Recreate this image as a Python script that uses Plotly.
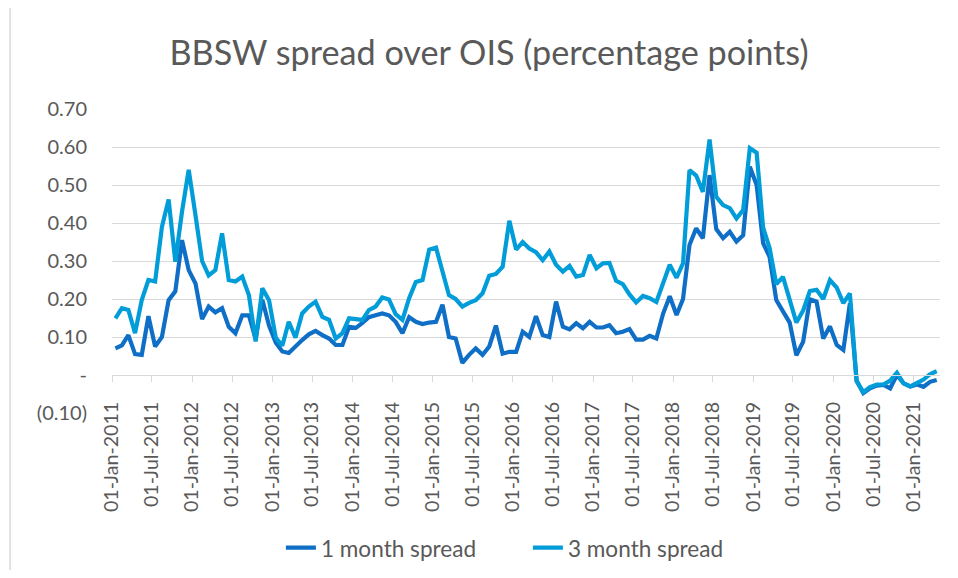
import pandas as pd
import plotly.graph_objects as go

months = pd.date_range("2011-01-01", periods=124, freq="MS")

one_month = [
    0.070, 0.078, 0.105, 0.055, 0.053, 0.155, 0.075, 0.100, 0.197, 0.220,
    0.355, 0.276, 0.241, 0.147, 0.180, 0.165, 0.176, 0.127, 0.110, 0.157,
    0.157, 0.095, 0.198, 0.130, 0.085, 0.062, 0.058, 0.077, 0.092, 0.107,
    0.116, 0.105, 0.096, 0.079, 0.079, 0.127, 0.124, 0.137, 0.152, 0.157,
    0.162, 0.157, 0.140, 0.110, 0.152, 0.140, 0.134, 0.138, 0.140, 0.185,
    0.100, 0.096, 0.032, 0.053, 0.070, 0.053, 0.075, 0.130, 0.056, 0.061,
    0.061, 0.114, 0.100, 0.155, 0.105, 0.100, 0.193, 0.127, 0.120, 0.136,
    0.123, 0.140, 0.125, 0.125, 0.131, 0.110, 0.114, 0.121, 0.093, 0.093,
    0.103, 0.096, 0.161, 0.207, 0.158, 0.200, 0.342, 0.386, 0.360, 0.526,
    0.384, 0.360, 0.377, 0.351, 0.368, 0.548, 0.500, 0.347, 0.311, 0.197,
    0.165, 0.138, 0.052, 0.088, 0.199, 0.193, 0.096, 0.128, 0.079, 0.066,
    0.189, -0.015, -0.048, -0.035, -0.028, -0.026, -0.035, 0.000, -0.022, -0.030,
    -0.025, -0.031, -0.018, -0.013,
]

three_month = [
    0.149, 0.176, 0.171, 0.110, 0.197, 0.250, 0.246, 0.390, 0.462, 0.298,
    0.430, 0.540, 0.420, 0.300, 0.262, 0.276, 0.373, 0.250, 0.246, 0.259,
    0.210, 0.088, 0.228, 0.197, 0.098, 0.077, 0.140, 0.098, 0.162, 0.180,
    0.193, 0.153, 0.145, 0.096, 0.110, 0.149, 0.147, 0.145, 0.171, 0.180,
    0.204, 0.199, 0.160, 0.145, 0.202, 0.245, 0.250, 0.330, 0.335, 0.270,
    0.210, 0.200, 0.180, 0.190, 0.197, 0.215, 0.261, 0.266, 0.285, 0.406,
    0.330, 0.350, 0.333, 0.323, 0.302, 0.325, 0.290, 0.272, 0.287, 0.259,
    0.263, 0.316, 0.281, 0.294, 0.295, 0.248, 0.239, 0.212, 0.191, 0.208,
    0.202, 0.192, 0.243, 0.290, 0.256, 0.294, 0.539, 0.525, 0.482, 0.620,
    0.469, 0.447, 0.439, 0.412, 0.434, 0.597, 0.585, 0.388, 0.334, 0.239,
    0.258, 0.202, 0.138, 0.170, 0.221, 0.224, 0.200, 0.250, 0.230, 0.189,
    0.215, -0.016, -0.045, -0.032, -0.025, -0.025, -0.015, 0.006, -0.022, -0.030,
    -0.022, -0.012, 0.002, 0.010,
]

y_tickvals = [-0.1, 0.0, 0.1, 0.2, 0.3, 0.4, 0.5, 0.6, 0.7]
y_ticktext = ["(0.10)", "-", "0.10", "0.20", "0.30", "0.40", "0.50", "0.60", "0.70"]

FONT = "Lato"
TXT = "#595959"
GRID = "#d9d9d9"

# page body has an 8px margin; figure sized so it fits the 958x578 window
W, H = 942, 562
OFF = 8
L, R = 112 - OFF, W - (940.5 - OFF)
T, B = 109 - OFF, H - (413 - OFF)
PW = W - L - R

fig = go.Figure()
fig.add_trace(go.Scatter(
    x=months, y=one_month, name="1 month spread", mode="lines",
    line=dict(color="#0F6FC6", width=4.2),
    xperiod="M1", xperiodalignment="middle",
))
fig.add_trace(go.Scatter(
    x=months, y=three_month, name="3 month spread", mode="lines",
    line=dict(color="#009DD9", width=4.2),
    xperiod="M1", xperiodalignment="middle",
))

fig.update_layout(
    width=W, height=H,
    margin=dict(l=L, r=R, t=T, b=B, autoexpand=False),
    paper_bgcolor="white", plot_bgcolor="white",
    font=dict(family=FONT, color=TXT),
    title=dict(
        text="BBSW spread over OIS (percentage points)",
        x=(489 - OFF) / W, xanchor="center", xref="container",
        y=1 - (53 - OFF) / H, yanchor="middle", yref="container",
        font=dict(family=FONT, size=34.2, color=TXT),
    ),
    showlegend=True,
    legend=dict(
        orientation="h", x=(281 - 112) / PW, xanchor="left",
        y=-(548 - 413) / (413 - 109), yanchor="middle",
        font=dict(family=FONT, size=22.6, color=TXT),
        bgcolor="rgba(0,0,0,0)",
        entrywidth=202, entrywidthmode="pixels",
    ),
    xaxis=dict(
        type="date",
        range=["2011-01-01", "2021-05-01"],
        tick0="2011-01-01", dtick="M6",
        tickformat="%d-%b-%Y", tickangle=-90,
        tickfont=dict(family=FONT, size=19.6, color=TXT),
        showgrid=False, zeroline=False,
        anchor="free", position=0.125,
        showline=True, linecolor=GRID, linewidth=1,
        ticks="outside", ticklen=6, tickcolor=GRID, tickwidth=1,
        ticklabelstandoff=12,
    ),
    yaxis=dict(
        range=[-0.1, 0.7],
        tickvals=y_tickvals, ticktext=y_ticktext,
        tickfont=dict(family=FONT, size=20, color=TXT),
        showgrid=True, gridcolor=GRID, gridwidth=1,
        zeroline=False, showline=False,
        ticklabelstandoff=24,
    ),
    shapes=[dict(type="line", xref="paper", yref="paper",
                 x0=(10 - 112) / PW, x1=(10 - 112) / PW, y0=-1.0, y1=1.5,
                 line=dict(color=GRID, width=1.5))],
)

fig.write_html("out.html")
